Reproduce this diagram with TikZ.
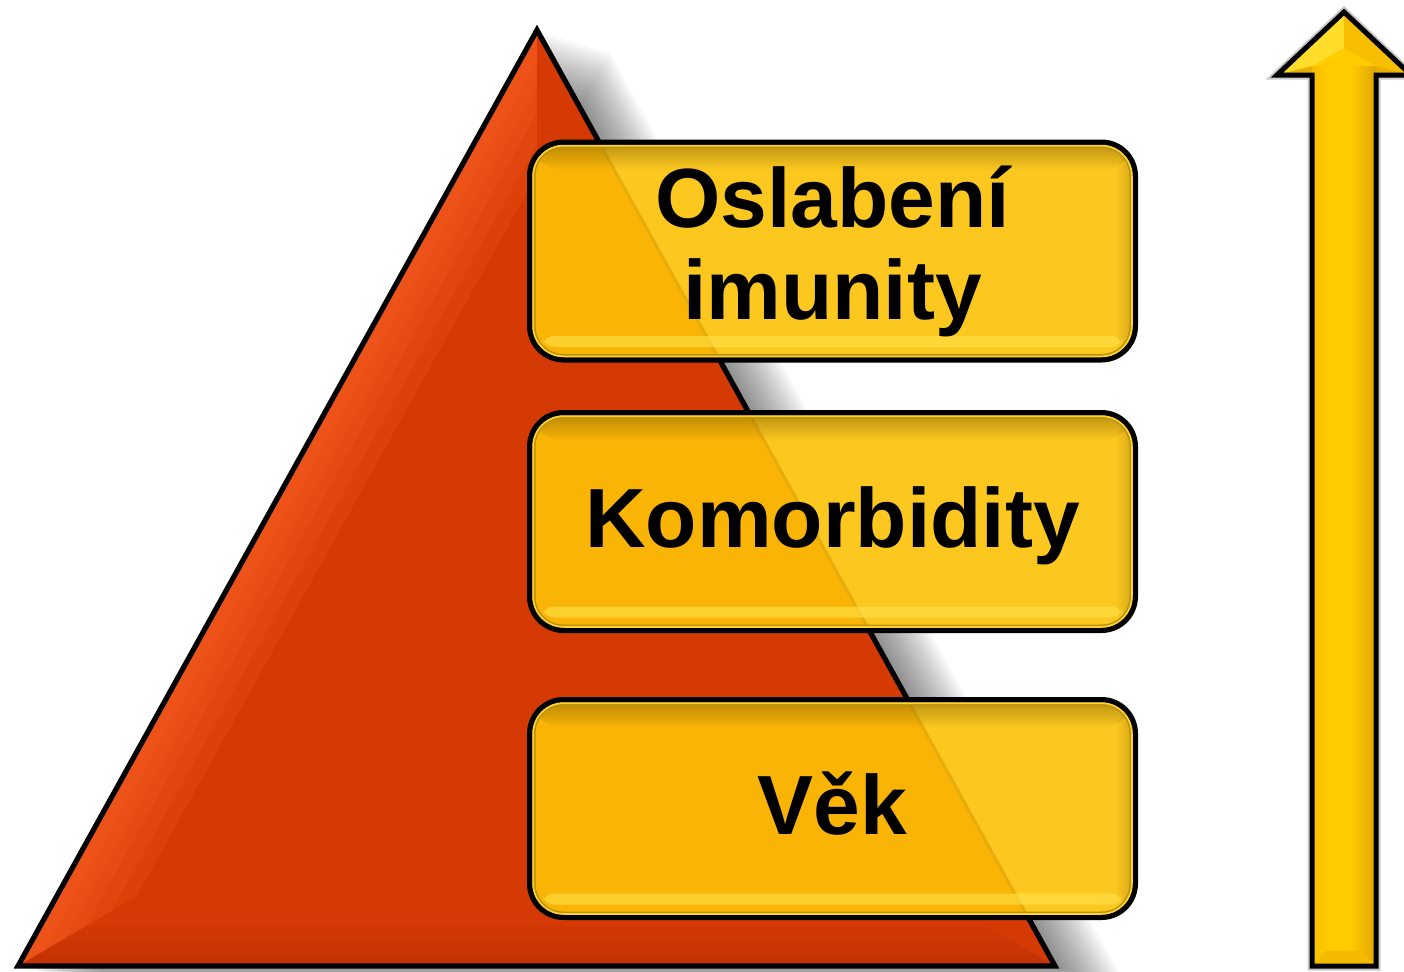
\documentclass[tikz,border=0pt]{standalone}
\usepackage{fontspec}
\setmainfont{Liberation Sans}
\usetikzlibrary{calc,fadings}
\definecolor{tribase}{HTML}{D63A04}
\definecolor{trilight}{HTML}{FF6428}
\definecolor{tridark}{HTML}{A02808}
\definecolor{boxbody}{HTML}{FCC820}
\definecolor{boxover}{HTML}{F9B406}
\definecolor{boxedge}{HTML}{E3A90A}
\definecolor{boxrim}{HTML}{FFD22E}
\definecolor{boxdark}{HTML}{8A6A08}
\definecolor{boxhi}{HTML}{FFE448}
\definecolor{arrowbody}{HTML}{FFCC00}
\definecolor{arrowlight}{HTML}{FFDD2A}
\definecolor{arrowdark}{HTML}{E2A600}
\definecolor{arrowmid}{HTML}{F8BF00}
\tikzset{
  ybox/.style={draw=black, line width=2.5pt, rounded corners=17pt,
    minimum width=303pt, minimum height=109pt, inner sep=0pt,
    fill=boxbody, align=center,
    font=\bfseries\fontsize{42}{46}\selectfont,
    path picture={
      \begin{scope}
        \clip (apex)--(bl)--(br)--cycle;
        \fill[boxover] (path picture bounding box.south west) rectangle (path picture bounding box.north east);
      \end{scope}
      \draw[boxedge, line width=1.5pt, opacity=.8] (apex)--(br);
      \fill[boxdark, path fading=south, opacity=.6]
        (path picture bounding box.north west) rectangle ($(path picture bounding box.north east)+(0,28)$);
      \fill[boxdark, path fading=west, opacity=.4]
        ($(path picture bounding box.north east)+(-20,0)$) rectangle (path picture bounding box.south east);
      \fill[boxhi, opacity=.6, rounded corners=5pt]
        ($(path picture bounding box.south west)+(14,-24)$) rectangle ($(path picture bounding box.south east)+(-14,-13)$);
      \draw[boxdark!60!boxbody, line width=6pt, rounded corners=17pt]
        (path picture bounding box.south west) rectangle (path picture bounding box.north east);
      \draw[boxrim, line width=4.5pt, rounded corners=17pt]
        (path picture bounding box.south west) rectangle (path picture bounding box.north east);
      \draw[black, line width=2.5pt, rounded corners=17pt]
        (path picture bounding box.south west) rectangle (path picture bounding box.north east);
    }},
  onel/.style={text height=30pt, text depth=4pt},
  arrowline/.style={line width=2.5pt, line join=miter}
}
\begin{document}
\begin{tikzpicture}[x=0.5pt,y=-0.5pt]
\useasboundingbox (0,0) rectangle (1404,971);
\coordinate (apex) at (537,30);
\coordinate (bl) at (18,966);
\coordinate (br) at (1055,966);
\coordinate (inc) at (537,660);
% soft shadow of the pyramid
\foreach \i in {1,...,18}{
  \fill[black, opacity=0.032] ({537+\i*4},{30+\i*1.2}) -- ({18+\i*4},{966+\i*1.2}) -- ({1055+\i*4},{966+\i*1.2}) -- cycle;
}
% pyramid
\fill[tribase] (apex)--(bl)--(br)--cycle;
\begin{scope}
  \clip (apex)--(bl)--(inc)--cycle;
  \foreach \w in {140,110,80,55,30}{
    \draw[trilight, opacity=0.17, line width=\w*0.5pt] (bl)--(apex);
  }
\end{scope}
\begin{scope}
  \clip (bl)--(br)--(inc)--cycle;
  \foreach \w in {80,50,25}{
    \draw[tridark, opacity=0.12, line width=\w*0.5pt] (bl)--(br);
  }
\end{scope}
\draw[black, line width=2.6pt, line join=miter] (apex)--(bl)--(br)--cycle;
% boxes
\node[ybox] (b1) at (832.5,251) {Oslabení\\imunity};
\node[ybox, onel] (b2) at (832.5,521.5) {Komorbidity};
\node[ybox, onel] (b3) at (832.5,808.5) {Věk};
% arrow
\draw[black!45, opacity=.45, line width=4.5pt, line join=miter]
  (1344,12) -- (1411,75) -- (1376,75) -- (1376,966) -- (1312,966) -- (1312,75) -- (1277,75) -- cycle;
\fill[arrowbody]
  (1344,12) -- (1411,75) -- (1376,75) -- (1376,966) -- (1312,966) -- (1312,75) -- (1277,75) -- cycle;
\shade[left color=arrowmid, right color=arrowbody] (1312,66) rectangle (1330,966);
\shade[left color=arrowbody, right color=arrowdark] (1350,66) rectangle (1376,966);
\fill[arrowlight] (1344,12) -- (1277,75) -- (1312,66) -- (1344,48) -- cycle;
\fill[arrowmid] (1344,12) -- (1411,75) -- (1376,66) -- (1344,48) -- cycle;
\fill[arrowdark!80!arrowbody] (1277,75) -- (1312,75) -- (1312,66) -- cycle;
\fill[arrowdark!80!arrowbody] (1411,75) -- (1376,75) -- (1376,66) -- cycle;
\fill[arrowmid!80!arrowdark] (1312,966) -- (1376,966) -- (1362,951) -- (1326,951) -- cycle;
\draw[arrowline]
  (1344,12) -- (1411,75) -- (1376,75) -- (1376,966) -- (1312,966) -- (1312,75) -- (1277,75) -- cycle;
\end{tikzpicture}
\end{document}
